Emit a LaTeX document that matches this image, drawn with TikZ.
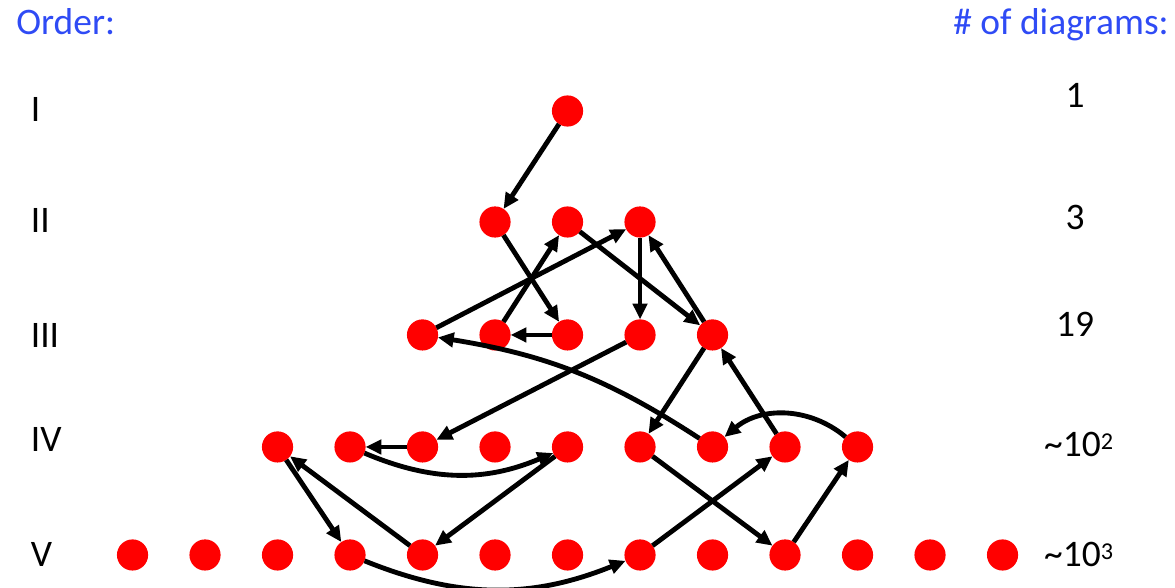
\documentclass[tikz,border=0pt]{standalone}
\usepackage{fontspec}
\setmainfont{Carlito}
\usepackage{tikz}
\usetikzlibrary{arrows.meta}
\definecolor{heading}{HTML}{2F4BF5}
\definecolor{dotred}{HTML}{FF0000}
\newcommand{\supnum}[1]{\raisebox{3pt}{\fontsize{9.5}{10}\selectfont #1}}
\tikzset{
  dot/.style={circle,fill=dotred,minimum size=0.43cm,inner sep=0pt,outer sep=0pt},
  link/.style={-{Triangle[length=6.2pt,width=5.6pt]},line width=1.9pt},
  txt/.style={font=\fontsize{14.7}{17}\selectfont,inner sep=0pt}
}

\begin{document}
\begin{tikzpicture}
  \useasboundingbox (-1.828,0) rectangle (14.379,8.110);
  % headings
  \node[txt,heading,anchor=base west] (order) at (-1.61,7.63) {Order:};
  \node[txt,heading,anchor=base east] (count) at (14.3,7.63) {\# of diagrams:};
  % vertices, one row per order
  \foreach \r/\y/\a/\b in {1/6.579/6/6,2/5.048/5/7,3/3.490/4/8,4/1.945/2/10,5/0.455/0/12}
    \foreach \c in {\a,...,\b} \node[dot] (r\r-\c) at (\c,\y) {};
  % order labels
  \foreach \r/\t/\y in {1/I/6.428,2/II/4.897,3/III/3.310,4/IV/1.876,5/V/0.290}
    \node[txt,anchor=base west] (ord\r) at (-1.41,\y) {\t};
  % number of diagrams
  \node[txt,anchor=base] (cnt1) at (13,6.621) {1};
  \node[txt,anchor=base] (cnt2) at (13,4.938) {3};
  \node[txt,anchor=base] (cnt3) at (13,3.462) {19};
  \node[txt,anchor=base] (cnt4) at (13.05,1.807) {\textasciitilde10\supnum{2}};
  \node[txt,anchor=base] (cnt5) at (13.05,0.290) {\textasciitilde10\supnum{3}};
  % links
  \draw[link] (r1-6) -- (r2-5);
  \draw[link] (r2-5) -- (r3-6);
  \draw[link] (r3-6) -- (r3-5);
  \draw[link] (r3-5) -- (r2-6);
  \draw[link] (r3-4) -- (r2-7);
  \draw[link] (r2-6) -- (r3-8);
  \draw[link] (r2-7) -- (r3-7);
  \draw[link] (r3-8) -- (r2-7);
  \draw[link] (r3-7) -- (r4-4);
  \draw[link] (r3-8) -- (r4-7);
  \draw[link] (r4-8) to[bend right=12] (r3-4);
  \draw[link] (r4-9) -- (r3-8);
  \draw[link] (r4-10) to[bend right=40] (r4-8);
  \draw[link] (r4-4) -- (r4-3);
  \draw[link] (r4-3) to[bend right=23] (r4-6);
  \draw[link] (r4-2) -- (r5-3);
  \draw[link] (r5-4) -- (r4-2);
  \draw[link] (r4-6) -- (r5-4);
  \draw[link] (r5-3) to[bend right=22] (r5-7);
  \draw[link] (r5-7) -- (r4-9);
  \draw[link] (r4-7) -- (r5-9);
  \draw[link] (r5-9) -- (r4-10);
\end{tikzpicture}
\end{document}
